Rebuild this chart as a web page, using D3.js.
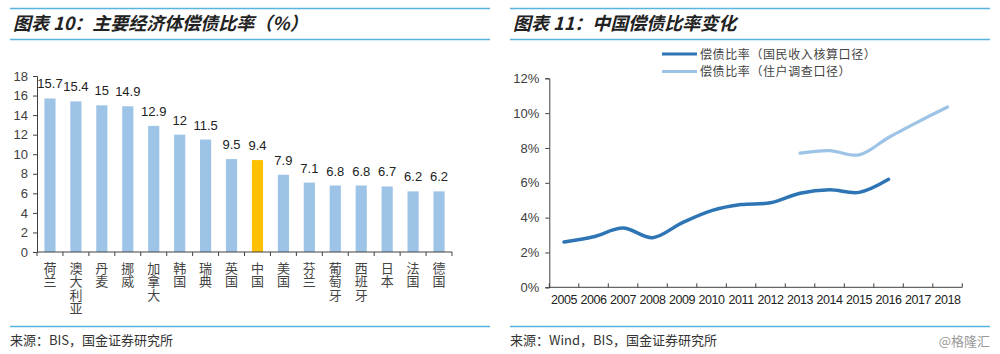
<!DOCTYPE html>
<html><head><meta charset="utf-8">
<script src="https://cdn.jsdelivr.net/npm/d3@7"></script>
<style>
body{margin:0;background:#fff;}
svg{display:block;}
.cjk{font-family:"Noto Sans CJK SC",sans-serif;}
.num{font-family:"Liberation Sans",Arial,sans-serif;}
.vert{writing-mode:vertical-rl;text-orientation:upright;}
</style></head><body>
<svg id="c" width="1000" height="354"></svg>
<script>
// ---- Data ----
const countries = ["荷兰","澳大利亚","丹麦","挪威","加拿大","韩国","瑞典","英国","中国","美国","芬兰","葡萄牙","西班牙","日本","法国","德国"];
const dsr = [15.7,15.4,15,14.9,12.9,12,11.5,9.5,9.4,7.9,7.1,6.8,6.8,6.7,6.2,6.2];
const highlight = "中国";
const leftTicks = [0,2,4,6,8,10,12,14,16,18];

const years = ["2005","2006","2007","2008","2009","2010","2011","2012","2013","2014","2015","2016","2017","2018"];
const nationalYears = ["2005","2006","2007","2008","2009","2010","2011","2012","2013","2014","2015","2016"];
const nationalVals = [2.6,2.9,3.4,2.85,3.7,4.4,4.75,4.85,5.4,5.6,5.45,6.2];
const surveyYears = ["2013","2014","2015","2016","2017","2018"];
const surveyVals = [7.7,7.85,7.6,8.6,9.5,10.35];
const rightTicks = [0,2,4,6,8,10,12];
const seriesNames = ["偿债比率（国民收入核算口径）","偿债比率（住户调查口径）"];

const svg = d3.select("#c");
const lineBlue = "#5AB4E0";
const axisCol = "#404040";
const textCol = "#404040";

// ---- Headers / footers ----
function frame(x0,x1,title,source){
  svg.append("line").attr("x1",x0).attr("x2",x1).attr("y1",8.5).attr("y2",8.5).attr("stroke",lineBlue).attr("stroke-width",1.5);
  svg.append("line").attr("x1",x0).attr("x2",x1).attr("y1",39.5).attr("y2",39.5).attr("stroke",lineBlue).attr("stroke-width",1.5);
  svg.append("text").attr("class","cjk").attr("x",x0+3).attr("y",30).attr("font-size",18).attr("font-weight","bold")
    .attr("font-style","italic").attr("fill","#222").text(title);
  svg.append("line").attr("x1",x0).attr("x2",x1).attr("y1",326.5).attr("y2",326.5).attr("stroke",lineBlue).attr("stroke-width",1.5);
  svg.append("text").attr("class","cjk").attr("x",x0).attr("y",345).attr("font-size",13).attr("fill","#333").text(source);
}
frame(10,490,"图表 10：主要经济体偿债比率（%）","来源：BIS，国金证券研究所");
frame(510,990,"图表 11：中国偿债比率变化","来源：Wind，BIS，国金证券研究所");
svg.append("text").attr("class","cjk").attr("x",990).attr("y",346).attr("text-anchor","end").attr("font-size",13).attr("fill","#999").text("@格隆汇");

// ---- Left bar chart ----
const xL = d3.scaleBand().domain(countries).range([37,452]).paddingInner(0.57).paddingOuter(0.285);
const yL = d3.scaleLinear().domain([0,18]).range([252,76]);
const gL = svg.append("g");
gL.selectAll("rect").data(countries).enter().append("rect")
  .attr("x",d=>xL(d)).attr("width",xL.bandwidth())
  .attr("y",(d,i)=>yL(dsr[i])).attr("height",(d,i)=>yL(0)-yL(dsr[i]))
  .attr("fill",d=>d===highlight?"#FFC000":"#9DC3E6");
gL.selectAll("text.v").data(countries).enter().append("text").attr("class","num v")
  .attr("x",d=>xL(d)+xL.bandwidth()/2).attr("y",(d,i)=>yL(dsr[i])-10)
  .attr("text-anchor","middle").attr("font-size",13).attr("fill","#222")
  .text((d,i)=>dsr[i]);
const yAxL = gL.append("g").attr("transform","translate(37,0)")
  .call(d3.axisLeft(yL).tickValues(leftTicks).tickSize(4).tickPadding(5));
yAxL.selectAll("text").attr("class","num").attr("font-size",13).attr("fill",textCol);
yAxL.select(".domain").attr("stroke",axisCol);
yAxL.selectAll(".tick line").attr("stroke",axisCol);
const xAxL = gL.append("g").attr("transform","translate(0,252)");
xAxL.append("line").attr("x1",37).attr("x2",452).attr("stroke",axisCol);
const bounds = countries.map(d=>xL(d)-xL.step()*xL.paddingInner()/2).concat([452]);
xAxL.selectAll("line.t").data(bounds).enter().append("line").attr("class","t")
  .attr("x1",d=>d).attr("x2",d=>d).attr("y1",0).attr("y2",4).attr("stroke",axisCol);
gL.selectAll("text.cat").data(countries).enter().append("text").attr("class","cjk vert cat")
  .attr("x",d=>xL(d)+xL.bandwidth()/2).attr("y",261.5)
  .attr("font-size",13).attr("letter-spacing",0.4).attr("fill","#444").text(d=>d);

// ---- Right line chart ----
const xR = d3.scaleBand().domain(years).range([549.3,962.3]);
const yR = d3.scaleLinear().domain([0,12]).range([287.3,78.3]);
const gR = svg.append("g");
const yAxR = gR.append("g").attr("transform","translate(549.3,0)")
  .call(d3.axisLeft(yR).tickValues(rightTicks).tickSize(4).tickPadding(6).tickFormat(d=>d+"%"));
yAxR.selectAll("text").attr("class","num").attr("font-size",13).attr("fill",textCol);
yAxR.select(".domain").attr("stroke",axisCol);
yAxR.selectAll(".tick line").attr("stroke",axisCol);
const xAxR = gR.append("g").attr("transform","translate(0,287.3)");
xAxR.append("line").attr("x1",549.3).attr("x2",962.3).attr("stroke",axisCol);
const rb = years.map(d=>xR(d)).concat([962.3]);
xAxR.selectAll("line.t").data(rb).enter().append("line").attr("class","t")
  .attr("x1",d=>d).attr("x2",d=>d).attr("y1",0).attr("y2",-4).attr("stroke",axisCol);
xAxR.selectAll("text").data(years).enter().append("text").attr("class","num")
  .attr("x",d=>xR(d)+xR.bandwidth()/2).attr("y",17).attr("text-anchor","middle")
  .attr("font-size",12.5).attr("letter-spacing",-0.4).attr("fill","#222").text(d=>d);

const line = d3.line().x(d=>xR(d[0])+xR.bandwidth()/2).y(d=>yR(d[1])).curve(d3.curveCatmullRom.alpha(0.5));
gR.append("path").datum(nationalYears.map((y,i)=>[y,nationalVals[i]]))
  .attr("d",line).attr("fill","none").attr("stroke","#2E75B6").attr("stroke-width",3.5).attr("stroke-linecap","round");
gR.append("path").datum(surveyYears.map((y,i)=>[y,surveyVals[i]]))
  .attr("d",line).attr("fill","none").attr("stroke","#9DC3E6").attr("stroke-width",3.2).attr("stroke-linecap","round");

// legend
const leg = gR.append("g");
[["#2E75B6",54],["#9DC3E6",71.5]].forEach((s,i)=>{
  leg.append("line").attr("x1",662).attr("x2",697).attr("y1",s[1]).attr("y2",s[1]).attr("stroke",s[0]).attr("stroke-width",3);
  leg.append("text").attr("class","cjk").attr("x",700).attr("y",s[1]+4.5).attr("font-size",12).attr("letter-spacing",0.6)
    .attr("fill","#444").text(seriesNames[i]);
});
</script>
</body></html>
